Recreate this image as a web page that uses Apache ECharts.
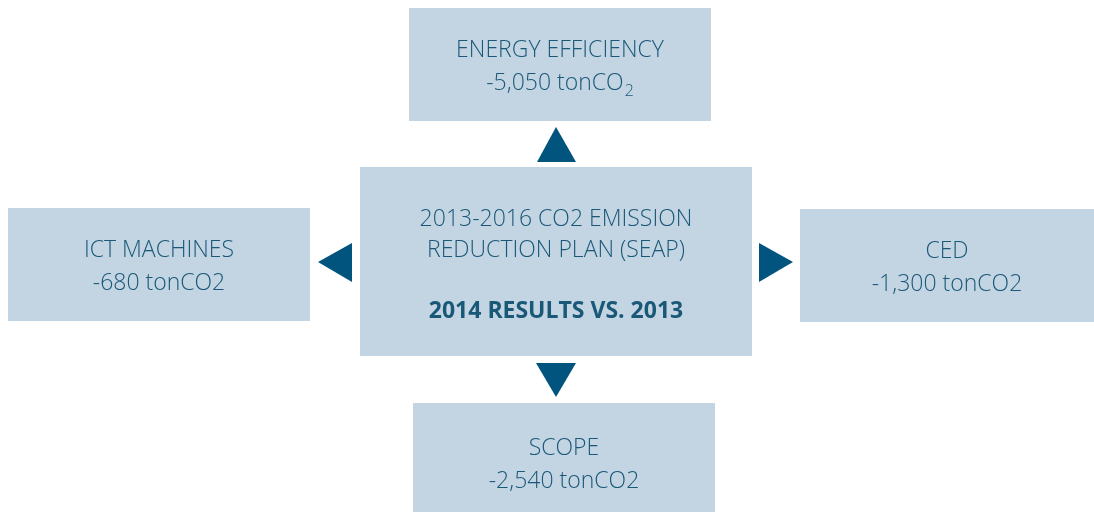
<!DOCTYPE html>
<html>
<head>
<meta charset="utf-8">
<script src="https://cdn.jsdelivr.net/npm/echarts@6/dist/echarts.min.js"></script>
<style>
  html, body { margin: 0; padding: 0; background: #fff; }
  #main { width: 1094px; height: 512px; }
</style>
</head>
<body>
<div id="main"></div>
<script>
// data
let areas = ['ENERGY EFFICIENCY', 'ICT MACHINES', 'CED', 'SCOPE'];
let reductions = [-5050, -680, -1300, -2540];
let unit = 'tonCO2';
let centerTitle = ['2013-2016 CO2 EMISSION', 'REDUCTION PLAN (SEAP)'];
let centerSub = '2014 RESULTS VS. 2013';

// layout (box x, y, w, h) for each area: top, left, right, bottom
let boxes = [
    [409, 8, 302, 113],
    [8, 208, 302, 113],
    [800, 209, 294, 113],
    [413, 403, 302, 120]
];
let arrows = [
    [[556, 127], [537, 162], [576, 162]],
    [[318, 262], [352, 243], [352, 282]],
    [[793, 262], [759, 243], [759, 282]],
    [[556, 397], [536, 363], [576, 363]]
];

let boxFill = '#c3d5e3',
    textColor = '#1a5877',
    arrowColor = '#00547e',
    font = '"Open Sans", "Noto Sans", sans-serif';

let myChart = echarts.init(document.getElementById('main'), null, { renderer: 'canvas' });

let elements = [];

// center box
elements.push({
    type: 'rect',
    shape: { x: 360, y: 167, width: 392, height: 189 },
    style: { fill: boxFill }
});
elements.push({
    type: 'text',
    style: {
        x: 556, y: 265,
        text: '{a|' + centerTitle[0] + '}\n{a|' + centerTitle[1] + '}\n{gap|}\n{b|' + centerSub + '}',
        align: 'center', verticalAlign: 'middle',
        rich: {
            a: { fontSize: 23, fontWeight: 300, fontFamily: font, fill: textColor, lineHeight: 31 },
            gap: { fontSize: 10, lineHeight: 30 },
            b: { fontSize: 23, fontWeight: 'bold', fontFamily: font, fill: textColor, lineHeight: 31 }
        }
    }
});

areas.forEach(function (name, i) {
    let b = boxes[i];
    let val = reductions[i].toLocaleString('en-US');
    let valText = i === 0
        ? '{a|' + val + ' tonCO}{sub|2}'
        : '{a|' + val + ' ' + unit + '}';
    elements.push({
        type: 'rect',
        shape: { x: b[0], y: b[1], width: b[2], height: b[3] },
        style: { fill: boxFill }
    });
    let cy = i === 3 ? 465 : b[1] + 59;
    elements.push({
        type: 'text',
        style: {
            x: b[0] + b[2] / 2, y: cy,
            text: '{a|' + name + '}\n' + valText,
            align: 'center', verticalAlign: 'middle',
            rich: {
                a: { fontSize: 23, fontWeight: 300, fontFamily: font, fill: textColor, lineHeight: 33 },
                sub: { fontSize: 16, fontWeight: 300, fontFamily: font, fill: textColor, lineHeight: 33, padding: [15, 0, 0, 1] }
            }
        }
    });
    elements.push({
        type: 'polygon',
        shape: { points: arrows[i] },
        style: { fill: arrowColor }
    });
});

let option = {
    backgroundColor: '#ffffff',
    graphic: { elements: elements }
};

myChart.setOption(option);
</script>
</body>
</html>
